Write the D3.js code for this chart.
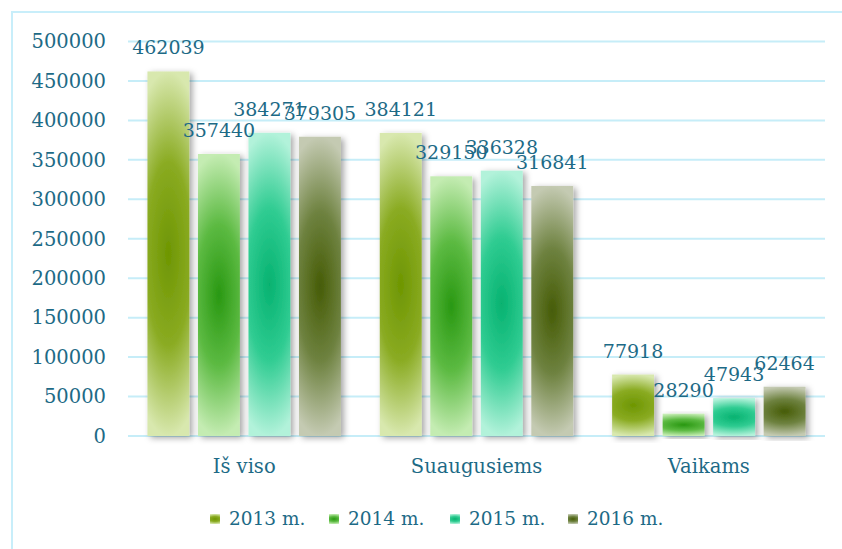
<!DOCTYPE html>
<html>
<head>
<meta charset="utf-8">
<script src="https://cdn.jsdelivr.net/npm/d3@7"></script>
<style>
  html, body { margin: 0; padding: 0; background: #ffffff; }
  svg { display: block; }
  text { font-family: "DejaVu Serif", "Liberation Serif", serif; fill: #1d6a86; }
</style>
</head>
<body>
<svg id="chart" width="842" height="549"></svg>
<script>
const categories = ["Iš viso", "Suaugusiems", "Vaikams"];
const series = ["2013 m.", "2014 m.", "2015 m.", "2016 m."];
const values2013 = [462039, 384121, 77918];
const values2014 = [357440, 329150, 28290];
const values2015 = [384271, 336328, 47943];
const values2016 = [379305, 316841, 62464];
const yTicks = [0, 50000, 100000, 150000, 200000, 250000, 300000, 350000, 400000, 450000, 500000];
const seriesValues = [values2013, values2014, values2015, values2016];

// gradient colours: [centre, middle, edge]
const palette = [
  ["#6e9602", "#8aab22", "#d8e8ae"],
  ["#299812", "#5cba42", "#c4ecb2"],
  ["#06b270", "#30cc92", "#b2f2da"],
  ["#465c06", "#6e8240", "#c4cab2"]
];

const svg = d3.select("#chart");
const defs = svg.append("defs");

palette.forEach((c, i) => {
  const g = defs.append("radialGradient")
    .attr("id", "grad" + i)
    .attr("cx", 0.5).attr("cy", 0.5).attr("r", 0.5)
    .attr("gradientTransform", "translate(0.5,0.5) scale(2.2,1) translate(-0.5,-0.5)");
  g.append("stop").attr("offset", "0%").attr("stop-color", c[0]);
  g.append("stop").attr("offset", "50%").attr("stop-color", c[1]);
  g.append("stop").attr("offset", "100%").attr("stop-color", c[2]);
});

const shadow = defs.append("filter").attr("id", "shadow")
  .attr("x", "-30%").attr("y", "-10%").attr("width", "160%").attr("height", "120%");
shadow.append("feDropShadow").attr("dx", 3).attr("dy", 2)
  .attr("stdDeviation", 3).attr("flood-color", "#000").attr("flood-opacity", 0.35);

// frame
svg.append("rect").attr("x", 12).attr("y", 12).attr("width", 842).attr("height", 560)
  .attr("fill", "none").attr("stroke", "#c8eefa").attr("stroke-width", 2);

const y = d3.scaleLinear().domain([0, 500000]).range([436, 41.5]);
const x0 = d3.scaleBand().domain(categories).range([128, 825]).padding(0);
const x1 = d3.scaleBand().domain(series).range([0, x0.bandwidth()])
  .paddingInner(0.17).paddingOuter(0.385);

// gridlines
svg.append("g").selectAll("line").data(yTicks).join("line")
  .attr("x1", 128).attr("x2", 825)
  .attr("y1", d => y(d)).attr("y2", d => y(d))
  .attr("stroke", "#c6edf8").attr("stroke-width", 2);

// y axis labels
const yAxis = d3.axisLeft(y).tickValues(yTicks).tickSize(0).tickPadding(0)
  .tickFormat(d3.format("d"));
const ya = svg.append("g").attr("transform", "translate(106,0)").call(yAxis);
ya.select(".domain").remove();
ya.selectAll("text").style("font-family", "DejaVu Serif, serif")
  .style("font-size", "19.5px").attr("fill", "#1d6a86");

// bars
const groups = svg.append("g").selectAll("g").data(categories).join("g")
  .attr("transform", d => `translate(${x0(d)},0)`);

groups.each(function (cat, ci) {
  const g = d3.select(this);
  series.forEach((s, si) => {
    const v = seriesValues[si][ci];
    g.append("rect")
      .attr("x", x1(s)).attr("y", y(v))
      .attr("width", x1.bandwidth()).attr("height", y(0) - y(v))
      .attr("fill", `url(#grad${si})`)
      .attr("filter", "url(#shadow)");
  });
});

// data labels
groups.each(function (cat, ci) {
  const g = d3.select(this);
  series.forEach((s, si) => {
    const v = seriesValues[si][ci];
    g.append("text")
      .attr("x", x1(s) + x1.bandwidth() / 2)
      .attr("y", y(v) - 17)
      .attr("text-anchor", "middle")
      .style("font-size", "19px")
      .text(v);
  });
});

// x axis labels
const xAxis = d3.axisBottom(x0).tickSize(0).tickPadding(0);
const xa = svg.append("g").attr("transform", "translate(0,459)").call(xAxis);
xa.select(".domain").remove();
xa.selectAll("text").style("font-family", "DejaVu Serif, serif")
  .style("font-size", "19.5px").attr("fill", "#1d6a86").attr("dy", "0.71em");

// legend
const legendX = [210, 329, 450, 568];
const legend = svg.append("g").selectAll("g").data(series).join("g")
  .attr("transform", (d, i) => `translate(${legendX[i]},519)`);
legend.append("rect").attr("x", 0).attr("y", -5).attr("width", 10).attr("height", 10)
  .attr("fill", (d, i) => `url(#grad${i})`);
legend.append("text").attr("x", 19).attr("y", 0).attr("dy", "0.35em")
  .style("font-size", "18.5px").text(d => d);
</script>
</body>
</html>
